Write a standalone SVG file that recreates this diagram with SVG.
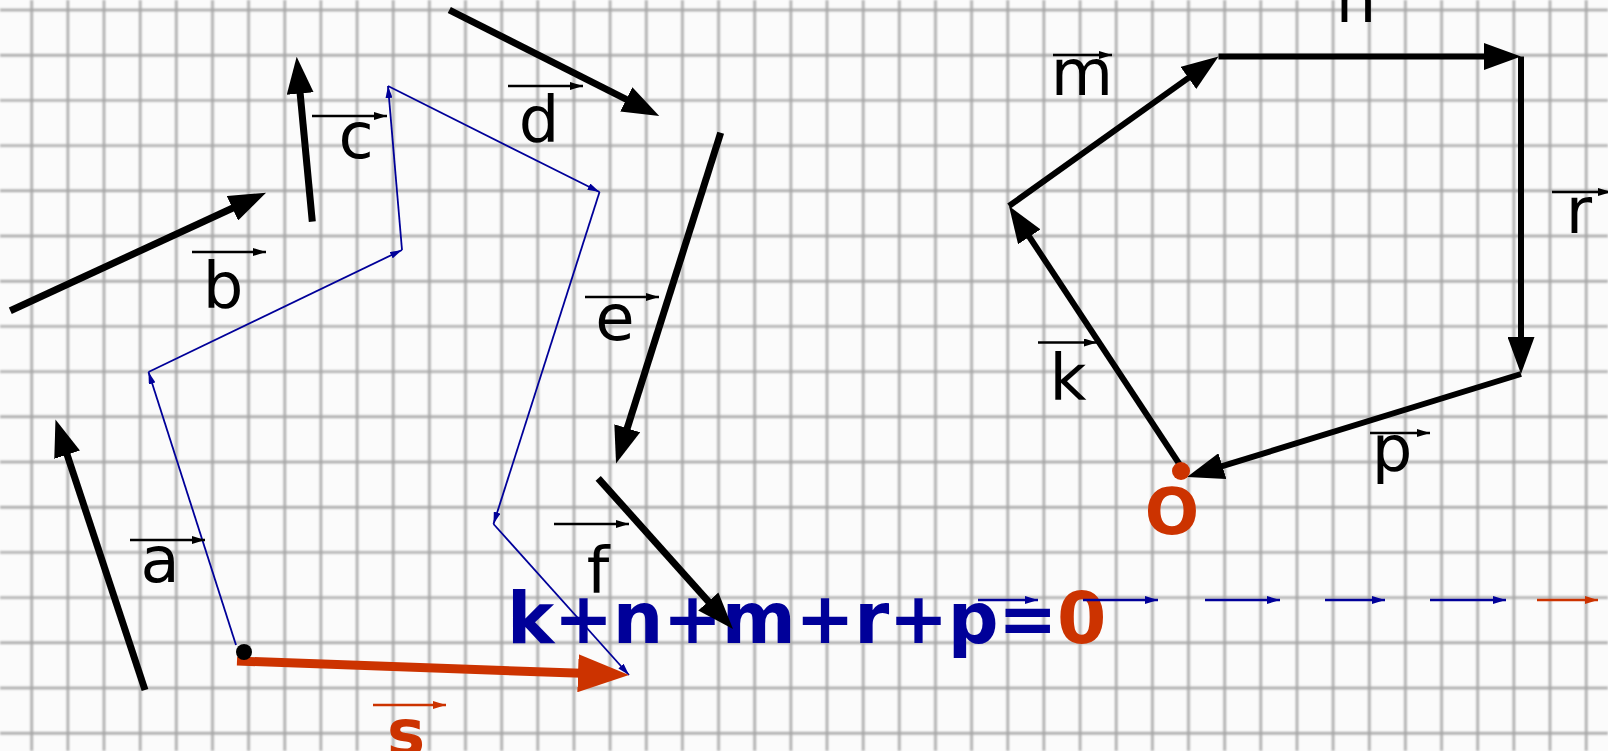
<svg xmlns="http://www.w3.org/2000/svg" width="1608" height="751" viewBox="0 0 1608 751">
<style>
.gl{stroke:#a4a4a4;stroke-width:2.4;fill:none}
.blk{stroke:#000;stroke-width:7;fill:none;marker-end:url(#hb)}
.blk6{stroke:#000;stroke-width:6;fill:none;marker-end:url(#hb)}
.blu{stroke:#000099;stroke-width:1.8;fill:none;marker-end:url(#hblue)}
.lab{font-family:"DejaVu Sans",Verdana,sans-serif;font-size:64px;fill:#000;text-anchor:middle}
.red{fill:#cc3300;font-weight:bold}
.la{stroke:#000;stroke-width:2.5;marker-end:url(#hs)}
.lar{stroke:#cc3300;stroke-width:2.5;marker-end:url(#hsr)}
.lab2{stroke:#000099;stroke-width:2.5;marker-end:url(#hsb)}
</style>
<defs>
<filter id="bl" x="-5%" y="-5%" width="110%" height="110%"><feGaussianBlur stdDeviation="1"/></filter>
<marker id="hb" markerUnits="userSpaceOnUse" markerWidth="37" markerHeight="27" refX="7" refY="13.5" orient="auto"><path d="M0,0 L37,13.5 L0,27 z" fill="#000"/></marker>
<marker id="hred" markerUnits="userSpaceOnUse" markerWidth="51" markerHeight="38" refX="11" refY="19" orient="auto"><path d="M0,0 L51,19 L0,38 z" fill="#cc3300"/></marker>
<marker id="hblue" markerUnits="userSpaceOnUse" markerWidth="12" markerHeight="7" refX="12" refY="3.5" orient="auto"><path d="M0,0 L12,3.5 L0,7 z" fill="#000099"/></marker>
<marker id="hs" markerUnits="userSpaceOnUse" markerWidth="13" markerHeight="8" refX="13" refY="4" orient="auto"><path d="M0,0 L13,4 L0,8 z" fill="#000"/></marker>
<marker id="hsr" markerUnits="userSpaceOnUse" markerWidth="13" markerHeight="8" refX="13" refY="4" orient="auto"><path d="M0,0 L13,4 L0,8 z" fill="#cc3300"/></marker>
<marker id="hsb" markerUnits="userSpaceOnUse" markerWidth="13" markerHeight="8" refX="13" refY="4" orient="auto"><path d="M0,0 L13,4 L0,8 z" fill="#000099"/></marker>
</defs>
<rect width="1608" height="751" fill="#fbfbfb"/>
<g id="grid" class="gl" filter="url(#bl)">
<path d="M31.7,0V751M67.9,0V751M104,0V751M140.2,0V751M176.3,0V751M212.5,0V751M248.6,0V751M284.8,0V751M320.9,0V751M357.1,0V751M393.2,0V751M429.4,0V751M465.5,0V751M501.7,0V751M537.8,0V751M574,0V751M610.1,0V751M646.3,0V751M682.4,0V751M718.6,0V751M754.7,0V751M790.9,0V751M827,0V751M863.2,0V751M899.3,0V751M935.5,0V751M971.6,0V751M1007.8,0V751M1043.9,0V751M1080.1,0V751M1116.2,0V751M1152.4,0V751M1188.5,0V751M1224.7,0V751M1260.8,0V751M1297,0V751M1333.1,0V751M1369.3,0V751M1405.4,0V751M1441.6,0V751M1477.7,0V751M1513.9,0V751M1550,0V751M1586.2,0V751"/>
<path d="M0,10H1608M0,55.2H1608M0,100.4H1608M0,145.6H1608M0,190.8H1608M0,236H1608M0,281.2H1608M0,326.4H1608M0,371.6H1608M0,416.8H1608M0,462H1608M0,507.2H1608M0,552.4H1608M0,597.6H1608M0,642.8H1608M0,688H1608M0,733.2H1608"/>
</g>
<g id="connectors">
<g id="chain">
<line class="blu" x1="236" y1="645" x2="148.5" y2="372"/>
<line class="blu" x1="148.5" y1="372" x2="402" y2="250"/>
<line class="blu" x1="402" y1="250" x2="388" y2="86"/>
<line class="blu" x1="388" y1="86" x2="599.5" y2="192"/>
<line class="blu" x1="599.5" y1="192" x2="493.5" y2="524"/>
<line class="blu" x1="493.5" y1="524" x2="629" y2="675"/>
</g>
<line id="vec-s" x1="237" y1="661" x2="589" y2="673.6" stroke="#cc3300" stroke-width="9" marker-end="url(#hred)"/>
<circle cx="244" cy="652" r="8" fill="#000"/>
<line id="vec-a" class="blk" x1="145" y1="690" x2="64.9" y2="448"/>
<line id="vec-b" class="blk" x1="10.3" y1="310.7" x2="238.8" y2="205.3"/>
<line id="vec-c" class="blk" x1="312.3" y1="221.7" x2="299.5" y2="86.6"/>
<line id="vec-d" class="blk" x1="449.3" y1="10" x2="632.5" y2="102.5"/>
<line id="vec-e" class="blk" x1="720.7" y1="132.7" x2="625.1" y2="434.9"/>
<line id="vec-k" class="blk6" x1="1180" y1="465" x2="1025.5" y2="231"/>
<line id="vec-m" class="blk6" x1="1009" y1="206" x2="1194.1" y2="73.9"/>
<line id="vec-n" class="blk6" x1="1218.5" y1="56.5" x2="1491" y2="56.5"/>
<line id="vec-r" class="blk6" x1="1521" y1="56.5" x2="1521" y2="344"/>
<line id="vec-p" class="blk6" x1="1521" y1="374" x2="1215.7" y2="468.2"/>
<circle cx="1181" cy="471" r="9" fill="#cc3300"/>
</g>
<g id="equation">
<text x="507" y="643" font-family="'DejaVu Sans',Verdana,sans-serif" font-weight="bold" font-size="71" fill="#000099" letter-spacing="-0.5">k+n+m+r+p=<tspan fill="#cc3300">0</tspan></text>
<line class="lab2" x1="978" y1="600" x2="1038" y2="600"/>
<line class="lab2" x1="1083" y1="600" x2="1158" y2="600"/>
<line class="lab2" x1="1205" y1="600" x2="1280" y2="600"/>
<line class="lab2" x1="1325" y1="600" x2="1385" y2="600"/>
<line class="lab2" x1="1430" y1="600" x2="1506" y2="600"/>
<line class="lar" x1="1537" y1="600" x2="1598" y2="600"/>
</g>
<line id="vec-f" class="blk" x1="598.2" y1="478.3" x2="713" y2="606.6"/>
<g id="label-a"><line class="la" x1="130" y1="540" x2="205" y2="540"/><text class="lab" x="160" y="582">a</text></g>
<g id="label-b"><line class="la" x1="192" y1="252" x2="266" y2="252"/><text class="lab" x="223" y="308">b</text></g>
<g id="label-c"><line class="la" x1="312" y1="116" x2="387" y2="116"/><text class="lab" x="356" y="158">c</text></g>
<g id="label-d"><line class="la" x1="508" y1="86" x2="583" y2="86"/><text class="lab" x="539" y="142">d</text></g>
<g id="label-e"><line class="la" x1="585" y1="297" x2="659" y2="297"/><text class="lab" x="615" y="340">e</text></g>
<g id="label-f"><line class="la" x1="554" y1="524" x2="629" y2="524"/><text class="lab" x="598" y="593">f</text></g>
<g id="label-s"><line class="lar" x1="373" y1="705" x2="446" y2="705"/><text class="lab red" x="406" y="755">s</text></g>
<g id="label-m"><line class="la" x1="1053" y1="55" x2="1112" y2="55"/><text class="lab" x="1082" y="95">m</text></g>
<g id="label-n"><text class="lab" x="1356" y="22">n</text></g>
<g id="label-r"><line class="la" x1="1552" y1="192" x2="1611" y2="192"/><text class="lab" x="1579" y="233">r</text></g>
<g id="label-k"><line class="la" x1="1038" y1="342.5" x2="1097" y2="342.5"/><text class="lab" x="1068" y="400">k</text></g>
<g id="label-p"><line class="la" x1="1370" y1="433" x2="1430" y2="433"/><text class="lab" x="1392" y="471">p</text></g>
<g id="label-O"><text class="lab red" x="1172" y="534">O</text></g>
</svg>
